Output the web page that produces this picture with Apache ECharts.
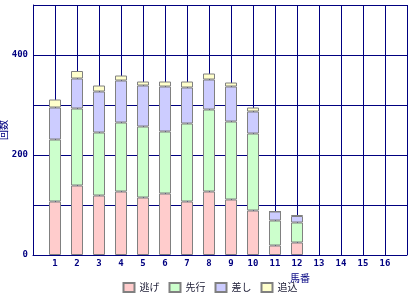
<!DOCTYPE html>
<html><head><meta charset="utf-8">
<script src="https://cdn.jsdelivr.net/npm/echarts@6/dist/echarts.min.js"></script>
<style>html,body{margin:0;padding:0;background:#fff}#c{width:420px;height:300px}</style>
</head><body><div id="c"></div>
<script>
const categories = ['1','2','3','4','5','6','7','8','9','10','11','12','13','14','15','16'];
const nige   = [107,139,119,127,115,123,107,127,111,89,19,25,null,null,null,null];
const senko  = [124,154,126,138,142,124,156,164,156,154,50,40,null,null,null,null];
const sashi  = [64,60,82,84,82,90,72,60,70,44,18,13,null,null,null,null];
const oikomi = [16,15,12,10,8,10,12,12,8,8,0,2,null,null,null,null];
const seriesNames = ['逃げ','先行','差し','追込'];
const colors = ['#ffcccc','#ccffcc','#ccccff','#ffffcc'];
const yTickLabels = [0,200,400];

const navy = '#000080';
const chart = echarts.init(document.getElementById('c'));
// pad one empty slot on each side so category points fall at 1..16 of 0..17
const xData = [''].concat(categories, ['']);
const mk = (name, arr, i) => ({
  name, type:'bar', stack:'total', barWidth:12,
  data: [null].concat(arr, [null]),
  itemStyle:{color:colors[i], borderColor:'#808080', borderWidth:1},
  emphasis:{disabled:true}
});
chart.setOption({
  animation:false,
  grid:{left:33, right:13, top:5, bottom:45, containLabel:false, outerBoundsMode:'none'},
  xAxis:{type:'category', data:xData, boundaryGap:false,
    name:'馬番', nameLocation:'middle', nameGap:15,
    nameTextStyle:{color:navy, fontSize:10, fontFamily:'Noto Sans CJK JP', padding:[0,0,0,160]},
    axisLine:{show:true, lineStyle:{color:navy, width:1}},
    axisTick:{show:false},
    axisLabel:{color:navy, fontSize:9, fontFamily:'DejaVu Sans Mono', fontWeight:'bold', margin:4, interval:0},
    splitLine:{show:true, interval:0, lineStyle:{color:navy, width:1}}
  },
  yAxis:{type:'value', min:0, max:500, interval:100,
    name:'回数', nameLocation:'middle', nameGap:25, nameRotate:90, nameMoveOverlap:false,
    nameTextStyle:{color:navy, fontSize:10, fontFamily:'Noto Sans CJK JP'},
    axisLine:{show:true, lineStyle:{color:navy, width:1}},
    axisTick:{show:false},
    axisLabel:{color:navy, fontSize:9, fontFamily:'DejaVu Sans Mono', fontWeight:'bold', margin:5,
      formatter:v => yTickLabels.includes(v) ? String(v) : ''},
    splitLine:{show:true, lineStyle:{color:navy, width:1}}
  },
  legend:{bottom:2, left:'center', icon:'rect', itemWidth:11, itemHeight:9, itemGap:9,
    textStyle:{color:'#1a1a33', fontSize:10, fontFamily:'Noto Sans CJK JP'},
    data:seriesNames},
  series:[mk(seriesNames[0],nige,0), mk(seriesNames[1],senko,1), mk(seriesNames[2],sashi,2), mk(seriesNames[3],oikomi,3)]
});
</script></body></html>
